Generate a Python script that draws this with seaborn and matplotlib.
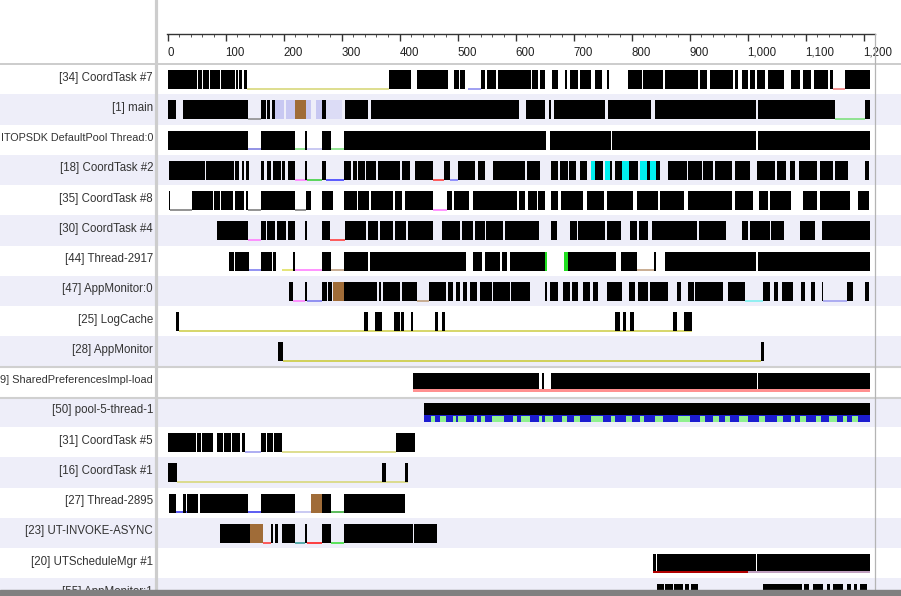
import matplotlib
matplotlib.use('Agg')
import matplotlib.pyplot as plt
from matplotlib.lines import Line2D
from matplotlib.patches import Rectangle
from matplotlib.ticker import MultipleLocator, FuncFormatter
import seaborn as sns

# thread labels, top to bottom (as far as they show in the label column)
THREADS = ['[34] CoordTask #7', '[1] main', 'ITOPSDK DefaultPool Thread:0',
           '[18] CoordTask #2', '[35] CoordTask #8', '[30] CoordTask #4',
           '[44] Thread-2917', '[47] AppMonitor:0', '[25] LogCache',
           '[28] AppMonitor', '9] SharedPreferencesImpl-load', '[50] pool-5-thread-1',
           '[31] CoordTask #5', '[16] CoordTask #1', '[27] Thread-2895',
           '[23] UT-INVOKE-ASYNC', '[20] UTScheduleMgr #1', '[55] AppMonitor:1']

# running intervals (ms) per thread
RUN_COORD7 = [(0, 50), (52, 59), (61, 72), (74, 90), (92, 116), (118, 122), (124, 128),
              (131, 137), (382, 419), (431, 484), (494, 503), (504, 513), (540, 547),
              (550, 566), (570, 627), (629, 638), (642, 650), (663, 673), (685, 688),
              (694, 708), (711, 731), (737, 749), (757, 761), (794, 818), (820, 855),
              (858, 914), (918, 930), (935, 975), (979, 984), (990, 1001), (1004, 1013),
              (1016, 1030), (1036, 1063), (1075, 1090), (1095, 1110), (1115, 1139),
              (1142, 1148), (1168, 1211)]
RUN_MAIN = [(1, 14), (26, 139), (162, 170), (171, 177), (180, 185), (266, 274),
            (306, 346), (350, 606), (618, 650), (657, 662), (667, 755), (760, 834),
            (841, 1014), (1018, 1150), (1202, 1211)]
RUN_MTOP = [(0, 139), (162, 220), (237, 240), (267, 281), (304, 652), (660, 765),
            (766, 1014), (1018, 1211)]
RUN_COORD2 = [(3, 65), (66, 115), (116, 124), (128, 131), (136, 141), (162, 166),
              (171, 178), (182, 195), (198, 203), (208, 220), (237, 240), (267, 273),
              (304, 309), (310, 317), (320, 326), (329, 340), (342, 360), (363, 401),
              (404, 418), (427, 457), (476, 487), (501, 530), (536, 547), (562, 617),
              (619, 642), (661, 673), (677, 690), (692, 705), (711, 723), (737, 750),
              (755, 766), (772, 783), (795, 812), (817, 849), (863, 895), (898, 921),
              (924, 941), (944, 973), (979, 1004), (1016, 1047), (1050, 1067),
              (1073, 1082), (1088, 1119), (1125, 1148), (1151, 1174), (1203, 1210)]
RUN_COORD8 = [(0, 1), (3, 5), (42, 79), (80, 90), (93, 113), (116, 131), (135, 139),
              (162, 220), (238, 248), (267, 286), (305, 319), (320, 326), (329, 348),
              (350, 389), (392, 405), (409, 458), (482, 490), (494, 520), (526, 603),
              (606, 617), (621, 637), (639, 651), (661, 673), (678, 717), (723, 753),
              (757, 803), (810, 846), (849, 890), (898, 973), (979, 1010), (1019, 1036),
              (1039, 1075), (1096, 1119), (1125, 1177), (1191, 1210)]
RUN_COORD4 = [(86, 139), (162, 170), (171, 185), (188, 205), (208, 220), (237, 240),
              (267, 273), (274, 280), (306, 343), (345, 363), (366, 389), (392, 412),
              (415, 458), (473, 504), (507, 527), (530, 547), (549, 579), (582, 641),
              (661, 671), (694, 706), (708, 754), (757, 782), (797, 809), (813, 829),
              (835, 913), (916, 963), (990, 1001), (1004, 1039), (1041, 1063),
              (1090, 1116), (1128, 1211)]
RUN_T2917 = [(106, 115), (116, 141), (162, 180), (182, 187), (216, 220), (267, 281),
             (304, 346), (349, 515), (527, 542), (548, 573), (576, 585), (590, 650),
             (691, 774), (782, 809), (839, 843), (857, 1014), (1018, 1211)]
RUN_APPMON0 = [(210, 217), (237, 240), (267, 275), (277, 283), (304, 361), (364, 368),
               (372, 401), (404, 430), (450, 481), (484, 493), (497, 504), (510, 516),
               (521, 533), (539, 559), (562, 591), (593, 625), (651, 654), (659, 673),
               (682, 694), (697, 708), (717, 729), (734, 743), (757, 783), (795, 806),
               (811, 829), (832, 863), (878, 886), (898, 907), (910, 958), (967, 995),
               (1026, 1039), (1045, 1053), (1059, 1079), (1092, 1099), (1110, 1116),
               (1128, 1131), (1171, 1182), (1202, 1210)]
RUN_LOGCACHE = [(15, 20), (339, 346), (358, 369), (390, 400), (402, 408), (419, 424),
                (461, 466), (474, 478), (771, 780), (786, 791), (797, 805), (872, 878),
                (891, 904)]
RUN_APPMON = [(191, 199), (1024, 1028)]
RUN_SHPREF = [(424, 641), (645, 649), (661, 1016), (1018, 1212)]
RUN_POOL5 = [(442, 1212)]
RUN_COORD5 = [(0, 49), (51, 57), (60, 66), (67, 78), (86, 96), (98, 110), (112, 125),
              (128, 134), (162, 170), (172, 181), (184, 197), (394, 427)]
RUN_COORD1 = [(0, 16), (369, 377), (409, 415)]
RUN_T2895 = [(3, 15), (27, 32), (33, 53), (56, 139), (162, 220), (266, 281), (304, 410)]
RUN_UTINV = [(90, 142), (178, 182), (185, 191), (197, 220), (237, 240), (267, 281),
             (304, 424), (425, 464)]
RUN_UTSCHED = [(837, 842), (844, 1015), (1017, 1211)]
RUN_APPMON1 = [(844, 856), (858, 872), (874, 888), (892, 899), (902, 915), (1027, 1094),
               (1097, 1106), (1113, 1130), (1137, 1142), (1148, 1165), (1172, 1178),
               (1184, 1188), (1194, 1206)]

RUNS = [RUN_COORD7, RUN_MAIN, RUN_MTOP, RUN_COORD2, RUN_COORD8, RUN_COORD4, RUN_T2917,
        RUN_APPMON0, RUN_LOGCACHE, RUN_APPMON, RUN_SHPREF, RUN_POOL5, RUN_COORD5,
        RUN_COORD1, RUN_T2895, RUN_UTINV, RUN_UTSCHED, RUN_APPMON1]

# other full-height states: (row, start, end, color)
STATES = [(1, 185, 200, '#c8c8f2'), (1, 205, 220, '#c8c8f2'), (1, 220, 238, '#a06c38'),
          (1, 238, 248, '#c8c8f2'), (1, 256, 266, '#c8c8f2'), (1, 274, 300, '#dcdcf6'),
          (3, 731, 737, '#00f0f0'), (3, 755, 763, '#00f0f0'), (3, 784, 795, '#00f0f0'),
          (3, 815, 827, '#00f0f0'), (3, 832, 843, '#00f0f0'),
          (6, 650, 654, '#20e020'), (6, 683, 690, '#20e020'),
          (7, 286, 304, '#a06c38'), (14, 248, 266, '#a06c38'), (15, 142, 165, '#a06c38')]

# waiting lines drawn at the bottom of a row: (row, start, end, color)
WAITS = [(0, 137, 382, '#d8d87c'), (0, 518, 540, '#9090f0'), (0, 1148, 1168, '#f08080'),
         (1, 139, 162, '#909090'), (1, 1150, 1202, '#80e080'),
         (2, 139, 162, '#8080e0'), (2, 220, 237, '#80e080'), (2, 240, 267, '#c0c0f0'),
         (2, 281, 304, '#80e080'),
         (3, 220, 240, '#ff80ff'), (3, 240, 267, '#40d040'), (3, 273, 304, '#4040ff'),
         (3, 457, 476, '#ff4040'), (3, 487, 501, '#8080ff'),
         (4, 5, 42, '#808080'), (4, 139, 162, '#808080'), (4, 220, 238, '#808080'),
         (4, 458, 482, '#ff80ff'),
         (5, 139, 162, '#ff80ff'), (5, 280, 306, '#ff4040'),
         (6, 141, 162, '#8080f0'), (6, 198, 216, '#e0e060'), (6, 220, 267, '#ff80ff'),
         (6, 281, 304, '#c0a080'), (6, 809, 839, '#c0a080'),
         (7, 217, 237, '#ff80ff'), (7, 240, 267, '#8080f0'), (7, 430, 450, '#c0a080'),
         (7, 995, 1026, '#80f0f0'), (7, 1131, 1171, '#a0a0f0'),
         (8, 20, 904, '#d0d050'), (9, 199, 1024, '#cccc40'),
         (12, 134, 162, '#a0a0f0'), (12, 197, 394, '#d8d87c'), (13, 16, 415, '#d8d87c'),
         (14, 15, 33, '#4040f0'), (14, 139, 162, '#4040f0'), (14, 220, 248, '#c0c0f0'),
         (14, 281, 304, '#40b040'),
         (15, 165, 178, '#ff4040'), (15, 220, 237, '#40a0a0'), (15, 240, 267, '#ff2020'),
         (15, 281, 304, '#40e040')]

# cpu usage fringe under the busiest rows: (row, start, end, color)
FRINGE = [(10, 424, 1212, '#ff9090'), (16, 837, 1000, '#b00000'), (16, 1000, 1211, '#c0a0c0')]
POOL_BLUE = [(442, 1212)]
POOL_GREEN = [(455, 462), (470, 480), (492, 498), (500, 515), (528, 534), (540, 548),
              (560, 580), (595, 602), (610, 625), (640, 646), (650, 665), (680, 688),
              (700, 712), (730, 750), (765, 772), (790, 800), (815, 822), (840, 855),
              (880, 900), (918, 926), (940, 950), (962, 970), (985, 1000), (1020, 1030),
              (1050, 1062), (1075, 1082), (1090, 1100), (1118, 1126), (1140, 1155),
              (1165, 1172), (1180, 1190)]

XMIN, XMAX = -0.9, 1219.8
W, H = 901, 596
ROW_PX = 30.25
HEADER_PX = 64


def main():
    sns.set_theme(style='white')
    plt.rcParams['font.family'] = ['Liberation Sans', 'DejaVu Sans']

    fig = plt.figure(figsize=(W / 100, H / 100), dpi=100)
    body_h = (H - HEADER_PX) / H
    n_vis = (H - HEADER_PX) / ROW_PX

    # background: row bands and labels
    ax_bg = fig.add_axes([0, 0, 1, body_h])
    ax_bg.set_xlim(0, 1)
    ax_bg.set_ylim(n_vis, 0)
    ax_bg.axis('off')
    labels = []
    for i, name in enumerate(THREADS):
        if i % 2 == 1:
            ax_bg.axhspan(i, i + 1, color='#eeeef9', lw=0)
        labels.append(ax_bg.text(153 / W, i + 0.45, name, ha='right', va='center',
                                 fontsize=8.3, color='#333333'))
    ax_bg.axhline(0, color='#c4c4c4', lw=1.2, clip_on=False)
    ax_bg.axhline(10.03, color='#d0d0d0', lw=1.5)
    ax_bg.axhline(11.03, color='#d0d0d0', lw=1.5)

    # shrink the long labels so they fit the label column
    fig.canvas.draw()
    renderer = fig.canvas.get_renderer()
    for t in labels:
        bb = t.get_window_extent(renderer)
        if bb.x0 < 1:
            t.set_fontsize(t.get_fontsize() * 152 / bb.width)

    # main timeline
    ax = fig.add_axes([167 / W, 0, 708 / W, body_h])
    ax.set_facecolor('none')
    ax.set_xlim(XMIN, XMAX)
    ax.set_ylim(n_vis, 0)
    ax.axis('off')

    for r, s, e, c in WAITS:
        ax.hlines(r + 0.82, s, e, color=c, lw=1.2, zorder=1)
    for i, runs in enumerate(RUNS):
        ax.barh([i + 0.515] * len(runs), [e - s for s, e in runs],
                left=[s for s, e in runs], height=0.63, color='black', lw=0, zorder=2)
    for r, s, e, c in STATES:
        ax.barh(r + 0.515, e - s, left=s, height=0.63, color=c, lw=0, zorder=3)
    for r, s, e, c in FRINGE:
        ax.barh(r + 0.795, e - s, left=s, height=0.07, color=c, lw=0, zorder=3)
    ax.barh([11 + 0.72] * len(POOL_BLUE), [e - s for s, e in POOL_BLUE],
            left=[s for s, e in POOL_BLUE], height=0.22, color='#1c1cd0', lw=0, zorder=3)
    ax.barh([11 + 0.73] * len(POOL_GREEN), [e - s for s, e in POOL_GREEN],
            left=[s for s, e in POOL_GREEN], height=0.2, color='#90f090', lw=0, zorder=4)

    # ruler on top
    ax_top = fig.add_axes([167 / W, (H - 34) / H, 708 / W, 20 / H])
    ax_top.set_facecolor('none')
    ax_top.set_xlim(XMIN, XMAX)
    ax_top.set_yticks([])
    for side in ['top', 'left', 'right']:
        ax_top.spines[side].set_visible(False)
    ax_top.spines['bottom'].set_color('#333333')
    ax_top.spines['bottom'].set_linewidth(1)
    ax_top.xaxis.set_major_locator(MultipleLocator(100))
    ax_top.xaxis.set_minor_locator(MultipleLocator(20))
    ax_top.xaxis.set_major_formatter(FuncFormatter(lambda v, p: f'{v:,.0f}'))
    ax_top.tick_params(axis='x', which='major', direction='out', length=5, width=1,
                       color='#333333', labelsize=8.3, labelcolor='#222222', pad=4,
                       bottom=True)
    ax_top.tick_params(axis='x', which='minor', direction='out', length=2.5, width=0.7,
                       color='#555555', bottom=True)
    plt.setp(ax_top.get_xticklabels(), ha='left')

    # frame lines
    fig.add_artist(Line2D([156 / W, 156 / W], [0, 1], color='#cdcdcd', lw=2.3))
    fig.add_artist(Line2D([875 / W, 875 / W], [0, (H - 34) / H], color='#b4b4b4', lw=0.9))
    fig.add_artist(Rectangle((0, 0), 1, 6 / H, transform=fig.transFigure,
                             color='#808080', zorder=10))

    fig.savefig('out.png', dpi=100, facecolor='white')
    plt.close()


if __name__ == '__main__':
    main()
